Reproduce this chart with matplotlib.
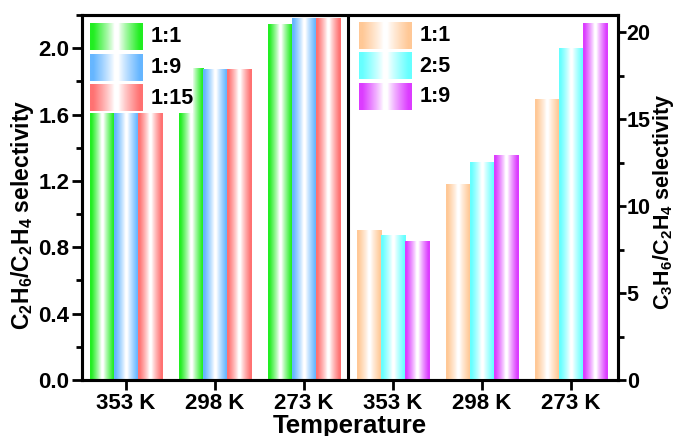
import numpy as np
import matplotlib
matplotlib.use('Agg')
import matplotlib.pyplot as plt
from matplotlib.colors import to_rgb
from matplotlib.patches import Rectangle
from matplotlib.ticker import MultipleLocator

plt.rcParams['font.family'] = ['Liberation Sans', 'DejaVu Sans']
plt.rcParams['font.weight'] = 'bold'
plt.rcParams['mathtext.fontset'] = 'custom'
plt.rcParams['mathtext.rm'] = 'Liberation Sans:bold'
plt.rcParams['mathtext.it'] = 'Liberation Sans:bold'
plt.rcParams['mathtext.bf'] = 'Liberation Sans:bold'

# temperatures (x groups)
temps = ['353 K', '298 K', '273 K']

# C2H6/C2H4 selectivity, one list per ratio, across temps
c2_ratios = ['1:1', '1:9', '1:15']
c2_11 = [1.74, 1.88, 2.145]
c2_19 = [1.72, 1.87, 2.18]
c2_115 = [1.71, 1.87, 2.18]

# C3H6/C2H4 selectivity
c3_ratios = ['1:1', '2:5', '1:9']
c3_11 = [8.58, 11.23, 16.13]
c3_25 = [8.33, 12.50, 19.08]
c3_19 = [7.99, 12.89, 20.50]

c2_colors = ['#22EE22', '#66B6FF', '#FF7272']
c3_colors = ['#FFC896', '#66FFFF', '#DC3CFF']

bar_w = 0.27
offsets = [-bar_w, 0, bar_w]


def gradient(color, n=96):
    # colour at both edges, fading to white in the middle
    x = np.linspace(0, 1, n)
    t = np.abs(2 * x - 1)
    w = np.clip((t - 0.08) / 0.8, 0, 1) ** 0.85
    c = np.array(to_rgb(color))
    img = 1 - w[:, None] * (1 - c[None, :])
    return img[None, :, :]


def gbar(a, x, h, color):
    a.imshow(gradient(color), extent=[x - bar_w / 2, x + bar_w / 2, 0, h],
             aspect='auto', interpolation='bilinear', zorder=2)


def legend_block(a, x0, x1, y_top, labels, colors, fs=15.5):
    ph = 26 / 365.0
    step = 30.5 / 365.0
    for k, (lab, col) in enumerate(zip(labels, colors)):
        yt = y_top - k * step
        a.imshow(gradient(col), extent=[x0, x1, yt - ph, yt], transform=a.transAxes,
                 aspect='auto', interpolation='bilinear', zorder=6)
        a.text(x1 + 0.015, yt - ph / 2, lab, transform=a.transAxes, fontsize=fs,
               fontweight='bold', va='center', ha='left', zorder=7)


fig = plt.figure(figsize=(6.75, 4.36), dpi=100)
ax = fig.add_axes([0.1215, 0.1284, 0.7935, 0.8372])
ax2 = ax.twinx()

for i, vals in enumerate([c2_11, c2_19, c2_115]):
    for j in range(len(temps)):
        gbar(ax, j + offsets[i], vals[j], c2_colors[i])

for i, vals in enumerate([c3_11, c3_25, c3_19]):
    for j in range(len(temps)):
        gbar(ax2, 3 + j + offsets[i], vals[j], c3_colors[i])

# white legend background on the left panel
ax.add_patch(Rectangle((0.006, 0.7315), 0.2015, 0.26, transform=ax.transAxes,
                       facecolor='white', edgecolor='none', zorder=5))
legend_block(ax, 0.015, 0.1134, 1 - 9 / 365.0, c2_ratios, c2_colors)
legend_block(ax2, 0.5164, 0.615, 1 - 7.7 / 365.0, c3_ratios, c3_colors)

ax.axvline(2.5, color='k', lw=2.2, zorder=3)

ax.set_xlim(-0.495, 5.53)
ax.set_ylim(0, 2.2)
ax2.set_ylim(0, 21)

ax.set_xticks(range(6))
ax.set_xticklabels(temps * 2)
ax.yaxis.set_major_locator(MultipleLocator(0.4))
ax.yaxis.set_minor_locator(MultipleLocator(0.2))
ax2.yaxis.set_major_locator(MultipleLocator(5))
ax2.yaxis.set_minor_locator(MultipleLocator(2.5))

for a in (ax, ax2):
    for s in a.spines.values():
        s.set_linewidth(2.2)
ax.tick_params(axis='x', which='major', length=7, width=2, labelsize=16, top=False, pad=2)
ax.tick_params(axis='y', which='major', length=7, width=2, labelsize=16, right=False, pad=2)
ax.tick_params(axis='y', which='minor', length=4, width=2, right=False)
ax2.tick_params(axis='y', which='major', length=6, width=2, labelsize=15.5, pad=0.5)
ax2.tick_params(axis='y', which='minor', length=4, width=2)

ax.set_xlabel('Temperature', fontsize=18.5, fontweight='bold', labelpad=0)
fig.text(0.034, 0.507, r'C$_2$H$_6$/C$_2$H$_4$ selectivity', fontsize=16.5,
         fontweight='bold', rotation=90, ha='center', va='center')
fig.text(0.983, 0.538, r'C$_3$H$_6$/C$_2$H$_4$ selectivity', fontsize=15.5,
         fontweight='bold', rotation=90, ha='center', va='center')

fig.savefig('out.png', dpi=100)
